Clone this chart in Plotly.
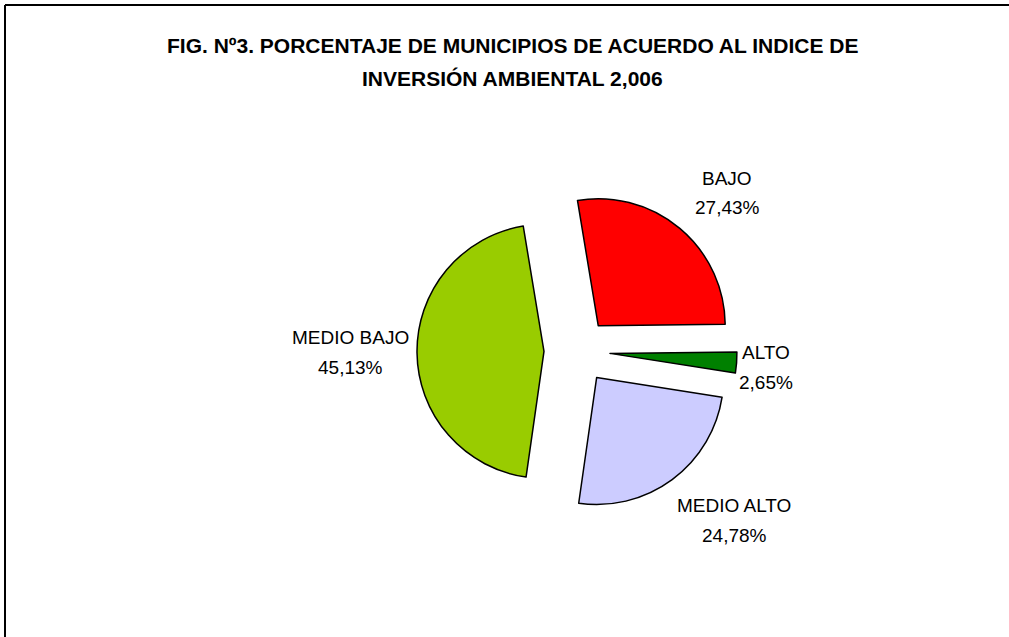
import plotly.graph_objects as go

# Data
categories = ["BAJO", "ALTO", "MEDIO ALTO", "MEDIO BAJO"]
percentages = [27.43, 2.65, 24.78, 45.13]
slice_colors = ["#FF0000", "#008000", "#CCCCFF", "#99CC00"]
title_lines = [
    "FIG. Nº3. PORCENTAJE DE MUNICIPIOS DE ACUERDO AL INDICE DE",
    "INVERSIÓN AMBIENTAL 2,006",
]

W, H = 1009, 637
FONT = "Liberation Sans, Arial"

# layout helpers (pixel positions of pie box and label anchors)
cx, cy = 577 / W, 1 - 351 / H
half_w, half_h = 160 / W, 160 / H
label_pos_px = [(727, 193), (766, 367), (734, 520), (350, 352)]
title_pos_px = [(512, 45), (512, 78)]
line_gap = 30

fig = go.Figure(
    go.Pie(
        labels=categories,
        values=percentages,
        sort=False,
        direction="clockwise",
        rotation=-9.4,
        pull=[0.26] * len(categories),
        marker=dict(colors=slice_colors, line=dict(color="black", width=1.5)),
        textinfo="none",
        showlegend=False,
        hoverinfo="label+value",
        domain=dict(x=[cx - half_w, cx + half_w], y=[cy - half_h, cy + half_h]),
    )
)

annotations = []
for (px, py), cat, val in zip(label_pos_px, categories, percentages):
    pct = f"{val:.2f}".replace(".", ",") + "%"
    for k, txt in enumerate([cat, pct]):
        yy = py + (k - 0.5) * line_gap
        annotations.append(
            dict(
                text=txt,
                x=px / W,
                y=1 - yy / H,
                xref="paper",
                yref="paper",
                xanchor="center",
                yanchor="middle",
                showarrow=False,
                font=dict(family=FONT, size=19, color="black"),
            )
        )
for (px, py), txt in zip(title_pos_px, title_lines):
    annotations.append(
        dict(
            text=f"<b>{txt}</b>",
            x=px / W,
            y=1 - py / H,
            xref="paper",
            yref="paper",
            xanchor="center",
            yanchor="middle",
            showarrow=False,
            font=dict(family=FONT, size=21, color="black"),
        )
    )

frame_x = 5 / W
frame_y = 1 - 5 / H
fig.update_layout(
    width=W,
    height=H,
    margin=dict(l=0, r=0, t=0, b=0),
    paper_bgcolor="white",
    plot_bgcolor="white",
    annotations=annotations,
    shapes=[
        dict(type="line", xref="paper", yref="paper",
             x0=frame_x, x1=frame_x, y0=-0.2, y1=frame_y,
             line=dict(color="black", width=2), layer="above"),
        dict(type="line", xref="paper", yref="paper",
             x0=frame_x, x1=1.2, y0=frame_y, y1=frame_y,
             line=dict(color="black", width=2), layer="above"),
    ],
)

fig.write_html(
    "out.html",
    config={"displayModeBar": False},
    post_script="document.body.style.margin='0';document.body.style.overflow='hidden';",
)
